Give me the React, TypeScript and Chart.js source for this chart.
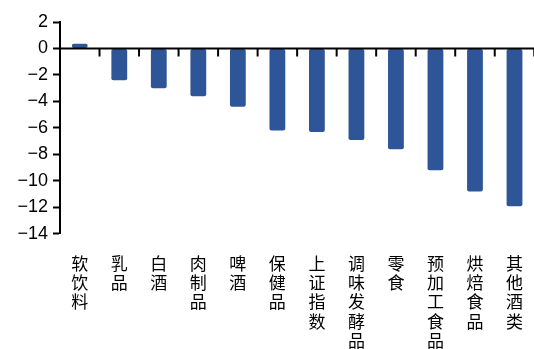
import React, { useEffect, useRef } from "react";
import { Chart, registerables } from "chart.js";

Chart.register(...registerables);

const categories = ["软饮料", "乳品", "白酒", "肉制品", "啤酒", "保健品", "上证指数", "调味发酵品", "零食", "预加工食品", "烘焙食品", "其他酒类"];
const values = [0.35, -2.4, -3.0, -3.6, -4.4, -6.2, -6.3, -6.9, -7.6, -9.2, -10.8, -11.9];
const yMin = -14;
const yMax = 2;
const yStep = 2;

const zeroLinePlugin = {
  id: "zeroLine",
  afterDatasetsDraw(chart: any) {
    const { ctx, chartArea, scales } = chart;
    const x = scales.x;
    const y = scales.y;
    const y0 = y.getPixelForValue(0);
    ctx.save();
    ctx.strokeStyle = "#000";
    ctx.lineWidth = 2;
    ctx.beginPath();
    ctx.moveTo(chartArea.left, y0);
    ctx.lineTo(chartArea.right, y0);
    ctx.stroke();
    for (let i = 1; i <= categories.length; i++) {
      const xp = i < categories.length
        ? (x.getPixelForValue(i - 1) + x.getPixelForValue(i)) / 2
        : x.getPixelForValue(i - 1) + (x.getPixelForValue(i - 1) - x.getPixelForValue(i - 2)) / 2;
      ctx.beginPath();
      ctx.moveTo(xp, y0);
      ctx.lineTo(xp, y0 + 8);
      ctx.stroke();
    }
    ctx.restore();
  },
};

export default function App() {
  const ref = useRef<HTMLCanvasElement>(null);
  useEffect(() => {
    if (!ref.current) return;
    const chart = new Chart(ref.current, {
      type: "bar",
      data: {
        labels: categories.map((c) => c.split("")),
        datasets: [
          {
            data: values,
            backgroundColor: "#2E5597",
            borderRadius: 2,
            borderSkipped: false,
            barPercentage: 0.4,
            categoryPercentage: 1,
          },
        ],
      },
      options: {
        animation: false,
        responsive: true,
        maintainAspectRatio: false,
        layout: { padding: { top: 22, left: 0, right: 0, bottom: 0 } },
        plugins: { legend: { display: false }, tooltip: { enabled: false } },
        scales: {
          x: {
            grid: { display: false, drawTicks: false },
            border: { display: false },
            ticks: {
              autoSkip: false,
              maxRotation: 0,
              minRotation: 0,
              padding: 20,
              color: "#000",
              font: { family: "'Noto Sans CJK SC'", size: 17, lineHeight: 1.13 },
            },
          },
          y: {
            min: yMin,
            max: yMax,
            afterFit: (s: any) => { s.width = 60; },
            grid: { drawOnChartArea: false, drawTicks: true, tickLength: 7, tickColor: "#000", tickWidth: 2 },
            border: { display: true, color: "#000", width: 2 },
            ticks: {
              stepSize: yStep,
              padding: 5,
              color: "#000",
              font: { family: "'Liberation Sans', Arial, sans-serif", size: 18 },
              callback: (v: any) => (Number(v) < 0 ? "\u2212" + Math.abs(Number(v)) : String(v)),
            },
          },
        },
      },
      plugins: [zeroLinePlugin],
    });
    return () => chart.destroy();
  }, []);
  return (
    <div style={{ position: "fixed", left: 0, top: 0, width: 534, height: 349, overflow: "hidden", background: "#fff" }}>
      <div style={{ position: "relative", width: 543, height: 370 }}>
        <canvas ref={ref} />
      </div>
    </div>
  );
}
